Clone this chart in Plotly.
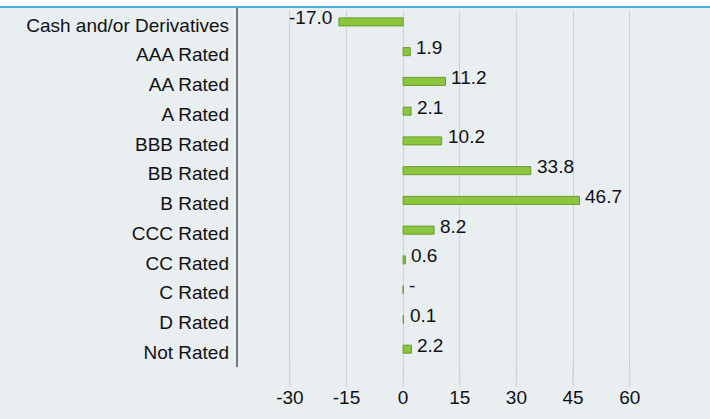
import plotly.graph_objects as go

# Credit quality breakdown (% of portfolio)
categories = [
    "Cash and/or Derivatives", "AAA Rated", "AA Rated", "A Rated", "BBB Rated",
    "BB Rated", "B Rated", "CCC Rated", "CC Rated", "C Rated", "D Rated", "Not Rated",
]
values = [-17.0, 1.9, 11.2, 2.1, 10.2, 33.8, 46.7, 8.2, 0.6, 0.0, 0.1, 2.2]
value_labels = ["-17.0", "1.9", "11.2", "2.1", "10.2", "33.8", "46.7", "8.2", "0.6", "-", "0.1", "2.2"]
tick_values = [-30, -15, 0, 15, 30, 45, 60]
tick_labels = ["-30", "-15", "0", "15", "30", "45", "60"]

BG = "#e9eef1"
GRID = "#cdd1d4"
BAR_FILL = "#8cc63f"
BAR_EDGE = "#6a9a2c"
TEXT = "#111111"
FONT = "Liberation Sans, Arial, sans-serif"
FS = 19
BAR_W = 0.27
H, T, B = 419, 10, 52
PLOT_H = H - T - B
RULE_PX = 3  # blue rule sits this many pixels above the plot area

fig = go.Figure(
    go.Bar(
        x=values,
        y=categories,
        orientation="h",
        width=BAR_W,
        offset=-BAR_W / 2 - 0.1,  # sit each bar a little above its label line
        marker=dict(color=BAR_FILL, line=dict(color=BAR_EDGE, width=1)),
        hoverinfo="skip",
    )
)

# value labels beside each bar end, nudged slightly upward
for cat, val, lab in zip(categories, values, value_labels):
    neg = val < 0
    fig.add_annotation(
        x=val, y=cat, text=lab, showarrow=False,
        xanchor="right" if neg else "left",
        xshift=-5 if neg else 4, yshift=7,
        font=dict(family=FONT, size=FS, color=TEXT),
    )

# long tick marks hanging below the plot area
for tv in tick_values:
    fig.add_shape(type="line", xref="x", yref="paper", x0=tv, x1=tv,
                  y0=0, y1=-20 / PLOT_H, line=dict(color=GRID, width=1))

# white strip above a blue rule across the top of the figure
top = 1 + RULE_PX / PLOT_H
fig.add_shape(type="rect", xref="paper", yref="paper", x0=-1, x1=2, y0=top, y1=1.2,
              fillcolor="white", line_width=0, layer="below")
fig.add_shape(type="rect", xref="paper", yref="paper", x0=-1, x1=2, y0=1.0, y1=top,
              fillcolor=BG, line_width=0, layer="below")
# category axis line running up to the rule
fig.add_shape(type="line", xref="paper", yref="paper", x0=0, x1=0, y0=0, y1=top,
              line=dict(color="black", width=1))
fig.add_shape(type="line", xref="paper", yref="paper", x0=-1, x1=2, y0=top, y1=top,
              line=dict(color="#41b4e6", width=2))

fig.update_layout(
    width=710, height=H,
    margin=dict(l=237, r=35, t=T, b=B, autoexpand=False),
    paper_bgcolor=BG, plot_bgcolor=BG,
    showlegend=False,
    font=dict(family=FONT, size=FS, color=TEXT),
)
fig.update_xaxes(
    range=[-44, 72], tickvals=tick_values, ticktext=tick_labels,
    showgrid=True, gridcolor=GRID, gridwidth=1,
    zeroline=True, zerolinecolor=GRID, zerolinewidth=1,
    ticks="outside", ticklen=13, tickcolor=GRID, tickwidth=1,
    showline=False, ticklabelstandoff=0, automargin=False,
    tickfont=dict(family=FONT, size=FS, color=TEXT),
)
fig.update_yaxes(
    range=[len(categories) - 0.5, -0.5], showgrid=False, zeroline=False,
    showline=False,
    ticks="", ticklabelstandoff=7, automargin=False,
    tickfont=dict(family=FONT, size=FS, color=TEXT),
)

fig.write_html("out.html")
